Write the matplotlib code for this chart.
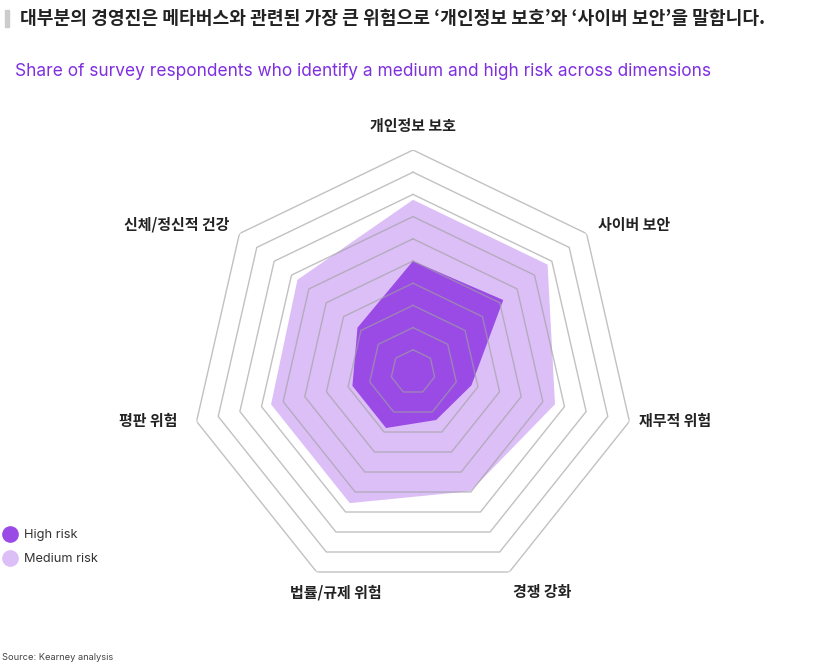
import numpy as np
import matplotlib
matplotlib.use("Agg")
import matplotlib.pyplot as plt
from matplotlib.lines import Line2D
from matplotlib.patches import Rectangle

plt.rcParams['font.family'] = ['Noto Sans CJK KR', 'DejaVu Sans']

# data
categories = ['개인정보 보호', '사이버 보안', '재무적 위험', '경쟁 강화',
              '법률/규제 위험', '평판 위험', '신체/정신적 건강']
medium_risk = [78, 78, 66, 60, 66, 66, 67]
high_risk = [50, 52, 27, 24, 28, 28, 32]
ring_levels = [10, 20, 30, 40, 50, 60, 70, 80, 90, 100]

# label placement (angle from top, clockwise, and radius)
label_theta_deg = [0, 56.4, 100.6, 149.5, 199.3, 259.5, 301.9]
label_r = [111, 119.6, 120.1, 115, 105, 121.4, 125.4]

dark = '#9A4BE6'
light = '#DCBFF7'
purple = '#7F2FE0'

W, H = 827, 669
fig = plt.figure(figsize=(W / 100, H / 100), dpi=100)

cx, cy, R = 413, 372, 222
ax = fig.add_axes([(cx - R) / W, (H - cy - R) / H, 2 * R / W, 2 * R / H],
                  projection='polar')
ax.set_theta_offset(np.pi / 2)
ax.set_theta_direction(-1)
ax.set_ylim(0, 100)
ax.set_xticks([])
ax.set_yticks([])
ax.grid(False)
ax.spines['polar'].set_visible(False)
ax.patch.set_alpha(0)

n = len(categories)
theta = np.linspace(0, 2 * np.pi, n, endpoint=False)
tc = np.append(theta, theta[0])

ax.fill(tc, medium_risk + medium_risk[:1], color=light, ec='white', lw=1.2, zorder=1)
ax.fill(tc, high_risk + high_risk[:1], color=dark, ec='none', zorder=2)

for lv in ring_levels:
    ax.plot(tc, [lv] * (n + 1), color='#a0a0a0', alpha=0.65, lw=1, zorder=3)

for lab, td, r in zip(categories, label_theta_deg, label_r):
    ax.text(np.deg2rad(td), r, lab, ha='center', va='center', fontsize=10.8,
            fontweight='bold', color='#222222')

# title, subtitle
fig.patches.append(Rectangle((5 / W, 1 - 27 / H), 4 / W, 17 / H,
                             transform=fig.transFigure, color='#cccccc'))
fig.text(20 / W, 1 - 18.5 / H,
         '대부분의 경영진은 메타버스와 관련된 가장 큰 위험으로 ‘개인정보 보호’와 ‘사이버 보안’을 말합니다.',
         ha='left', va='center', fontsize=13.1, fontweight='bold', color='#222222')
fig.text(15 / W, 1 - 72 / H,
         'Share of survey respondents who identify a medium and high risk across dimensions',
         ha='left', va='center', fontsize=12.45, color=purple, family=['Inter', 'DejaVu Sans'])

handles = [Line2D([], [], marker='o', ls='', color=dark, markersize=11),
           Line2D([], [], marker='o', ls='', color=light, markersize=11)]
leg = fig.legend(handles, ['High risk', 'Medium risk'], loc='upper left',
                 bbox_to_anchor=(4 / W, 1 - 529 / H), frameon=False,
                 handlelength=1.0, handletextpad=0.6, labelspacing=0.95,
                 borderpad=0, borderaxespad=0,
                 prop={'family': ['Inter', 'DejaVu Sans'], 'size': 9.2})
for t in leg.get_texts():
    t.set_color('#333333')

fig.text(2 / W, 1 - 657 / H, 'Source: Kearney analysis', ha='left', va='center',
         fontsize=6.7, color='#444444', family=['Inter', 'DejaVu Sans'])

fig.savefig('out.png', dpi=100, facecolor='white')
